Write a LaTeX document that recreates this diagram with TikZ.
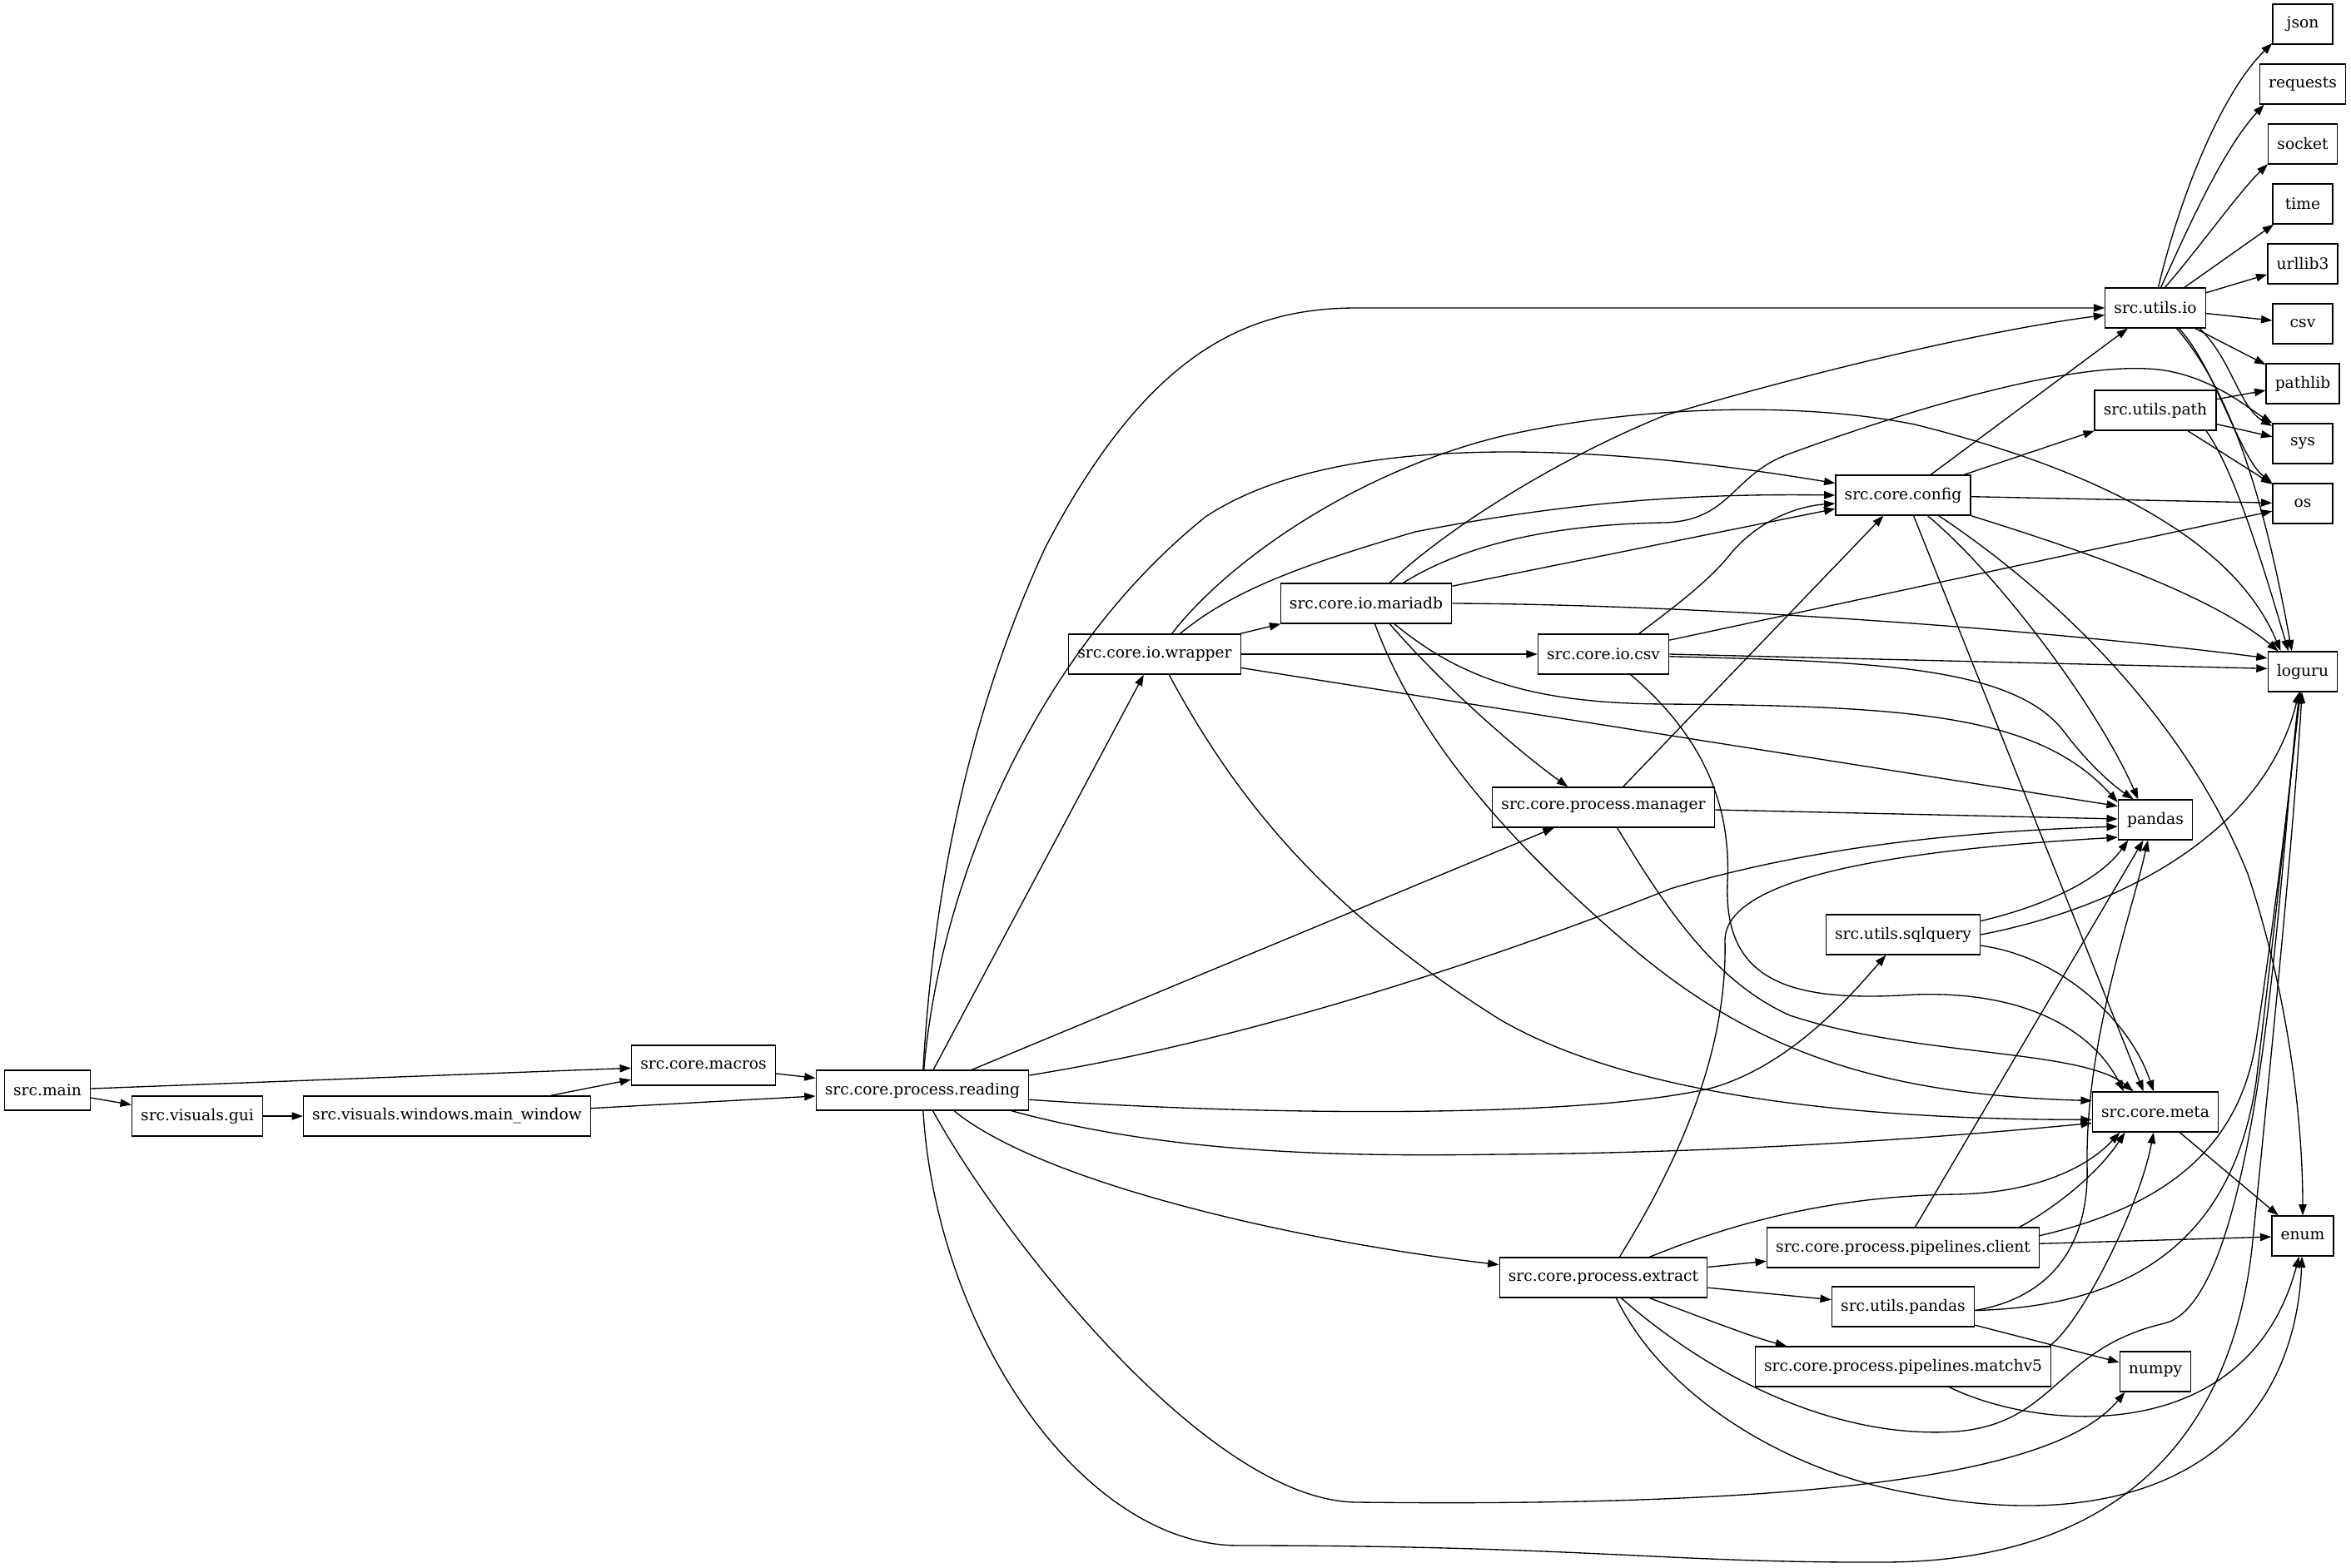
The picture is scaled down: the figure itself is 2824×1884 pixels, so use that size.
\documentclass[tikz,border=0pt]{standalone}
\usepackage{fontspec}
\setmainfont{DejaVu Serif}
\usetikzlibrary{arrows.meta}

\begin{document}
\begin{tikzpicture}[x=0.75bp, y=-0.75bp, line width=1bp,
    >={Triangle[length=10bp,width=7bp]},
    mod/.style={draw, minimum height=36bp, minimum width=54bp,
        inner xsep=8bp, inner ysep=0pt, font=\fontsize{14bp}{16bp}\selectfont}]

    \useasboundingbox (0,0) rectangle (2824,1884);

    % Nodes
    \node[mod] (main) at (57,1310) {src.main};
    \node[mod] (gui) at (237,1341) {src.visuals.gui};
    \node[mod] (mainwin) at (537,1341) {src.visuals.windows.main\_window};
    \node[mod] (macros) at (845,1280) {src.core.macros};
    \node[mod] (reading) at (1108,1310) {src.core.process.reading};
    \node[mod] (wrapper) at (1387,786) {src.core.io.wrapper};
    \node[mod] (mariadb) at (1641,725) {src.core.io.mariadb};
    \node[mod] (iocsv) at (1926,786) {src.core.io.csv};
    \node[mod] (manager) at (1926,970) {src.core.process.manager};
    \node[mod] (extract) at (1926,1535) {src.core.process.extract};
    \node[mod] (config) at (2286,595) {src.core.config};
    \node[mod] (sqlquery) at (2286,1123) {src.utils.sqlquery};
    \node[mod] (client) at (2286,1499) {src.core.process.pipelines.client};
    \node[mod] (upandas) at (2286,1570) {src.utils.pandas};
    \node[mod] (matchv) at (2286,1642) {src.core.process.pipelines.matchv5};
    \node[mod] (uio) at (2589,370) {src.utils.io};
    \node[mod] (upath) at (2589,493) {src.utils.path};
    \node[mod] (pandas) at (2589,985) {pandas};
    \node[mod] (meta) at (2589,1336) {src.core.meta};
    \node[mod] (numpy) at (2589,1648) {numpy};
    \node[mod] (json) at (2766,29) {json};
    \node[mod] (requests) at (2766,101) {requests};
    \node[mod] (socket) at (2766,173) {socket};
    \node[mod] (time) at (2766,245) {time};
    \node[mod] (urllib) at (2766,317) {urllib3};
    \node[mod] (csvmod) at (2766,389) {csv};
    \node[mod] (pathlib) at (2766,461) {pathlib};
    \node[mod] (sys) at (2766,533) {sys};
    \node[mod] (os) at (2766,605) {os};
    \node[mod] (loguru) at (2766,807) {loguru};
    \node[mod] (enum) at (2766,1485) {enum};

    % Entry and gui
    \draw[->] (main) -- (macros);
    \draw[->] (main) -- (gui);
    \draw[->] (gui) -- (mainwin);
    \draw[->] (mainwin) -- (macros);
    \draw[->] (mainwin) -- (reading);
    \draw[->] (macros) -- (reading);

    % src.core.process.reading
    \draw[->] (reading.88) .. controls (1125,1000) and (1190,800) .. (1256,657)
        .. controls (1380,420) and (1500,370) .. (1630,370) -- (uio.west);
    \draw[->] (reading.86) .. controls (1130,1050) and (1250,780) .. (1448,621)
        .. controls (1600,520) and (1900,530) .. (config.170);
    \draw[->] (reading) -- (wrapper);
    \draw[->] (reading) -- (manager);
    \draw[->] (reading.8) .. controls (1500,1250) and (1800,1150) .. (2006,1068)
        .. controls (2200,1010) and (2400,998) .. (pandas.190);
    \draw[->] (reading.-5) .. controls (1500,1340) and (1900,1345) .. (2057,1307)
        .. controls (2150,1280) and (2220,1200) .. (sqlquery.-130);
    \draw[->] (reading.-13) .. controls (1400,1385) and (1600,1390) .. (1800,1387)
        .. controls (2100,1385) and (2350,1365) .. (meta.190);
    \draw[->] (reading.-33) .. controls (1250,1420) and (1550,1490) .. (extract.173);
    \draw[->] (reading.-63) .. controls (1200,1480) and (1450,1805) .. (1631,1805)
        .. controls (2250,1812) and (2480,1760) .. (numpy.-146);
    \draw[->] (reading.-88) .. controls (1125,1600) and (1300,1857) .. (1488,1857)
        .. controls (1900,1857) and (2000,1878) .. (2261,1877)
        .. controls (2550,1877) and (2680,1720) .. (2705,1500)
        .. controls (2730,1250) and (2755,1000) .. (loguru.-92);

    % src.core.io.wrapper
    \draw[->] (wrapper) -- (mariadb);
    \draw[->] (wrapper) -- (iocsv);
    \draw[->] (wrapper.39) .. controls (1480,710) and (1560,680) .. (1700,639)
        .. controls (1900,600) and (2050,593) .. (config.west);
    \draw[->] (wrapper.50) .. controls (1470,680) and (1620,570) .. (1800,525)
        .. controls (1950,490) and (2150,480) .. (2300,510)
        .. controls (2500,560) and (2680,640) .. (loguru.137);
    \draw[->] (wrapper.-9) -- (pandas.160);
    \draw[->] (wrapper.-55) .. controls (1500,990) and (1620,1110) .. (1800,1224)
        .. controls (1980,1330) and (2300,1345) .. (meta.187);

    % src.core.io.mariadb
    \draw[->] (mariadb.41) .. controls (1720,650) and (1850,560) .. (2000,499)
        .. controls (2200,440) and (2400,395) .. (uio.188);
    \draw[->] (mariadb.29) .. controls (1750,660) and (1850,630) .. (2000,628)
        .. controls (2080,625) and (2080,570) .. (2150,545)
        .. controls (2300,490) and (2500,430) .. (2600,445)
        .. controls (2660,455) and (2700,490) .. (sys.north west);
    \draw[->] (mariadb) -- (config);
    \draw[->] (mariadb.east) .. controls (2000,726) and (2400,750) .. (loguru.159);
    \draw[->] (mariadb.-36) .. controls (1760,820) and (1850,845) .. (2000,846)
        .. controls (2300,848) and (2450,860) .. (pandas.155);
    \draw[->] (mariadb.-41) .. controls (1730,820) and (1820,900) .. (manager.150);
    \draw[->] (mariadb.-67) .. controls (1700,880) and (1800,1000) .. (1950,1130)
        .. controls (2100,1260) and (2250,1315) .. (meta.170);

    % src.core.io.csv
    \draw[->] (iocsv.30) .. controls (2010,730) and (2050,700) .. (2075,670)
        .. controls (2110,625) and (2160,608) .. (config.187);
    \draw[->] (iocsv.12) -- (os.194);
    \draw[->] (iocsv.east) -- (loguru.175);
    \draw[->] (iocsv.-2) .. controls (2250,795) and (2420,800) .. (2480,880)
        .. controls (2510,920) and (2540,945) .. (pandas.137);
    \draw[->] (iocsv.-37) .. controls (2040,880) and (2080,960) .. (2075,1060)
        .. controls (2070,1180) and (2150,1205) .. (2300,1195)
        .. controls (2450,1190) and (2520,1250) .. (meta.147);

    % src.core.process.manager
    \draw[->] (manager) -- (config);
    \draw[->] (manager) -- (pandas);
    \draw[->] (manager.-56) .. controls (2000,1090) and (2060,1180) .. (2150,1220)
        .. controls (2300,1270) and (2500,1260) .. (meta.137);

    % src.core.config
    \draw[->] (config) -- (uio);
    \draw[->] (config) -- (upath);
    \draw[->] (config) -- (os);
    \draw[->] (config.south east) .. controls (2480,655) and (2650,710) .. (loguru.140);
    \draw[->] (config.-63) -- (meta.120);
    \draw[->] (config.-40) .. controls (2400,690) and (2520,850) .. (pandas.130);
    \draw[->] (config.-30) .. controls (2450,700) and (2620,850) .. (2700,1050)
        .. controls (2750,1200) and (2766,1350) .. (enum.north);

    % src.utils.io
    \draw[->] (uio.82) .. controls (2620,230) and (2670,110) .. (json.-148);
    \draw[->] (uio.75) .. controls (2630,270) and (2670,180) .. (requests.-152);
    \draw[->] (uio.65) .. controls (2640,300) and (2690,230) .. (socket.-150);
    \draw[->] (uio) -- (time);
    \draw[->] (uio) -- (urllib);
    \draw[->] (uio) -- (csvmod);
    \draw[->] (uio) -- (pathlib);
    \draw[->] (uio.-25) .. controls (2680,430) and (2690,490) .. (sys.150);
    \draw[->] (uio.-41) .. controls (2660,440) and (2690,550) .. (os.north west);
    \draw[->] (uio.-44) .. controls (2680,470) and (2720,600) .. (loguru.118);

    % src.utils.path
    \draw[->] (upath) -- (pathlib);
    \draw[->] (upath) -- (sys);
    \draw[->] (upath) -- (os);
    \draw[->] (upath.-22) .. controls (2680,560) and (2710,650) .. (loguru.125);

    % src.utils.sqlquery
    \draw[->] (sqlquery.10) .. controls (2450,1090) and (2520,1060) .. (pandas.-143);
    \draw[->] (sqlquery.east) .. controls (2550,1090) and (2720,1000) .. (loguru.-100);
    \draw[->] (sqlquery.-8) .. controls (2480,1150) and (2560,1230) .. (meta.95);

    % src.core.process.extract
    \draw[->] (extract) -- (client);
    \draw[->] (extract) -- (upandas);
    \draw[->] (extract.-24) .. controls (2050,1585) and (2100,1605) .. (matchv.170);
    \draw[->] (extract.52) .. controls (2020,1390) and (2075,1260) .. (2072,1130)
        .. controls (2072,1050) and (2300,1020) .. (pandas.205);
    \draw[->] (extract.24) .. controls (2080,1470) and (2200,1437) .. (2350,1435)
        .. controls (2450,1433) and (2510,1400) .. (meta.-150);
    \draw[->] (extract.-49) .. controls (2050,1650) and (2200,1730) .. (2350,1720)
        .. controls (2470,1710) and (2470,1620) .. (2600,1590)
        .. controls (2720,1560) and (2740,1000) .. (loguru.-98);
    \draw[->] (extract.-58) .. controls (2000,1680) and (2150,1770) .. (2300,1795)
        .. controls (2580,1850) and (2755,1740) .. (enum.-92);

    % src.core.process.pipelines.client
    \draw[->] (client) -- (pandas);
    \draw[->] (client.10) .. controls (2470,1450) and (2520,1410) .. (meta.-146);
    \draw[->] (client.5) .. controls (2600,1450) and (2690,1380) .. (2710,1250)
        .. controls (2740,1050) and (2755,900) .. (loguru.-96);
    \draw[->] (client) -- (enum);

    % src.utils.pandas
    \draw[->] (upandas.-3) .. controls (2460,1560) and (2510,1500) .. (2507,1400)
        .. controls (2505,1250) and (2560,1100) .. (pandas.-110);
    \draw[->] (upandas.-3) .. controls (2550,1570) and (2680,1500) .. (2710,1300)
        .. controls (2740,1050) and (2755,900) .. (loguru.-97);
    \draw[->] (upandas) -- (numpy);

    % src.core.process.pipelines.matchv5
    \draw[->] (matchv.8.5) .. controls (2500,1590) and (2570,1450) .. (meta.-95);
    \draw[->] (matchv.-24) .. controls (2450,1720) and (2700,1740) .. (enum.-100);

    % src.core.meta
    \draw[->] (meta) -- (enum);

\end{tikzpicture}
\end{document}
